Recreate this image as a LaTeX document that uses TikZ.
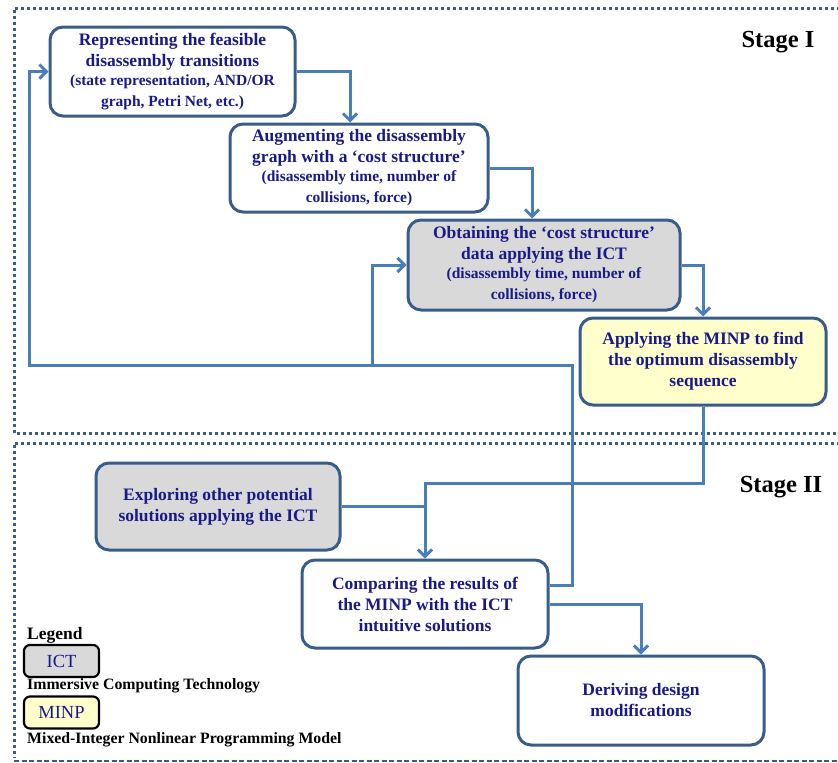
\documentclass[tikz,border=0pt]{standalone}
\usepackage{fontspec}
\setmainfont{Liberation Serif}
\usetikzlibrary{arrows.meta}
\definecolor{bord}{RGB}{56,93,138}
\definecolor{arrc}{RGB}{74,126,187}
\definecolor{navy}{RGB}{25,25,135}
\definecolor{grayfill}{RGB}{217,217,217}
\definecolor{yellowfill}{RGB}{255,255,204}
\newcommand{\mainsz}{\fontsize{17.5}{21}\selectfont}
\newcommand{\subsz}{\fontsize{15.5}{19}\selectfont}
\tikzset{
  box/.style={draw=bord, line width=3pt, rounded corners=13pt, fill=white,
    align=center, inner sep=0pt, text=navy, font=\bfseries\mainsz},
  ictbox/.style={box, fill=grayfill},
  minpbox/.style={box, fill=yellowfill},
  arr/.style={draw=arrc, line width=3pt, -{Straight Barb[length=7pt,width=14pt,line width=3pt]}},
  conn/.style={draw=arrc, line width=3pt},
  frame/.style={draw=bord, line width=3pt, dash pattern=on 3pt off 3pt},
  legbox/.style={draw=black, line width=2.2pt, rounded corners=6pt, minimum width=75pt,
    minimum height=32pt, inner sep=0pt, text=navy, font=\fontsize{18.5}{20}\selectfont},
  legtext/.style={anchor=west, inner sep=0pt, font=\bfseries\fontsize{15.8}{18}\selectfont},
  stagetext/.style={inner sep=0pt, font=\bfseries\fontsize{24.5}{28}\selectfont}
}
\begin{document}
\begin{tikzpicture}[x=1pt, y=-1pt]
\useasboundingbox (0,0) rectangle (838,763);
% frames
\draw[frame] (840,8) -- (14,8) -- (14,433) -- (840,433);
\draw[frame] (840,443) -- (14,443) -- (14,758);
\draw[draw=bord, line width=1.5pt, dash pattern=on 5pt off 2.5pt] (14,761) -- (840,761);

\node[stagetext] (s1) at (778,42) {Stage I};
\node[stagetext] (s2) at (781,487) {Stage II};

% boxes
\node[box, minimum width=245pt, minimum height=89pt] (b1) at (172.5,71.5)
  {Representing the feasible\\ disassembly transitions\\[-2pt]
   \subsz (state representation, AND/OR\\ \subsz graph, Petri Net, etc.)};
\node[box, minimum width=258pt, minimum height=88pt] (b2) at (359,168)
  {Augmenting the disassembly\\ graph with a ‘cost structure’\\[-2pt]
   \subsz (disassembly time, number of\\ \subsz collisions, force)};
\node[ictbox, minimum width=272pt, minimum height=90pt] (b3) at (544,265)
  {Obtaining the ‘cost structure’\\ data applying the ICT\\[-2pt]
   \subsz (disassembly time, number of\\ \subsz collisions, force)};
\node[minpbox, minimum width=246pt, minimum height=87pt] (b4) at (703,361.5)
  {Applying the MINP to find\\ the optimum disassembly\\ sequence};
\node[ictbox, minimum width=244pt, minimum height=87pt] (b5) at (218,506.5)
  {Exploring other potential\\ solutions applying the ICT};
\node[box, minimum width=246pt, minimum height=88pt] (b6) at (425,604)
  {Comparing the results of\\ the MINP with the ICT\\ intuitive solutions};
\node[box, minimum width=246pt, minimum height=89pt] (b7) at (641,700.5)
  {Deriving design\\ modifications};

% junction coordinates
\coordinate (j1) at (425,483);
\coordinate (j2) at (572,365);
\coordinate (j3) at (29,365);
\coordinate (j4) at (372,365);

% connectors
\draw[arr] (b1.east) -| ([xshift=-9pt]b2.north);
\draw[arr] (b2.east) -| ([xshift=-12pt]b3.north);
\draw[arr] (b3.east) -| (b4.north);
\draw[arr] (b4.south) |- (j1) -- (b6.north);
\draw[conn] (b5.east) -- (b5.east -| j1);
\draw[arr] ([yshift=19pt]b6.east) -| (j2) -- (j3) |- (b1.west);
\draw[arr] (j4) |- (b3.west);
\draw[arr] (b6.east) -| (b7.north);

% legend
\node[legtext, font=\bfseries\fontsize{17.5}{20}\selectfont] (lg) at (27,635) {Legend};
\node[legbox, fill=grayfill] (l1) at (61.5,661) {ICT};
\node[legtext] (lt1) at (27,686) {Immersive Computing Technology};
\node[legbox, fill=yellowfill] (l2) at (61.5,712.5) {MINP};
\node[legtext] (lt2) at (27,740) {Mixed-Integer Nonlinear Programming Model};
\end{tikzpicture}
\end{document}
